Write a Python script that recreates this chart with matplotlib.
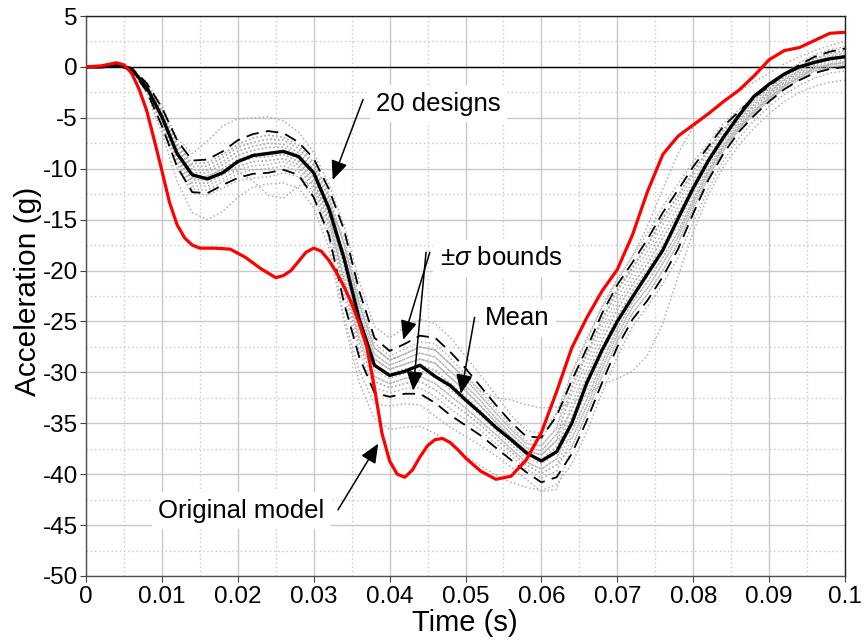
import matplotlib
matplotlib.use("Agg")
import matplotlib.pyplot as plt
from matplotlib.ticker import MultipleLocator, FixedLocator

plt.rcParams['font.family'] = ['Liberation Sans', 'DejaVu Sans']
plt.rcParams['axes.unicode_minus'] = False
plt.rcParams['mathtext.fontset'] = 'custom'
plt.rcParams['mathtext.rm'] = 'Liberation Sans'
plt.rcParams['mathtext.it'] = 'Liberation Sans:italic'
plt.rcParams['lines.solid_joinstyle'] = 'round'
plt.rcParams['lines.dash_joinstyle'] = 'round'

# ---- data -------------------------------------------------------------
# common time base for the 20 designs and their statistics (s)
time = [i * 0.002 for i in range(51)]

mean_acc = [0, 0, 0.2, -0.2, -2.0, -4.9, -8.5, -10.6, -11.0, -10.4, -9.3, -8.7, -8.5,
            -8.3, -8.8, -10.4, -13.9, -18.8, -24.8, -29.3, -30.3, -29.9, -29.3, -30.4,
            -31.3, -32.7, -34.0, -35.4, -36.6, -37.9, -38.7, -37.8, -35.0, -31.0, -27.8,
            -25.0, -22.6, -20.3, -18.0, -14.9, -11.9, -9.2, -6.9, -4.8, -2.9, -1.7, -0.7,
            0.0, 0.45, 0.8, 1.0]

upper_sigma = [0, 0, 0.2, -0.1, -1.6, -4.0, -7.2, -9.2, -9.1, -8.3, -7.2, -6.6, -6.3,
               -6.5, -7.4, -9.0, -12.0, -16.0, -22.0, -26.6, -27.9, -27.2, -26.4, -26.6,
               -28.0, -29.6, -31.4, -33.2, -34.9, -36.3, -36.4, -34.3, -30.8, -27.6, -24.2,
               -21.4, -19.2, -16.9, -14.3, -12.1, -9.8, -7.8, -5.8, -4.4, -3.0, -1.9, -0.7,
               0.2, 1.0, 1.5, 1.8]

lower_sigma = [0, 0, 0.1, -0.3, -2.4, -5.8, -9.8, -12.3, -12.4, -11.6, -10.9, -10.5, -10.4,
               -10.1, -10.6, -12.8, -16.5, -23.2, -28.5, -32.0, -32.4, -32.1, -32.1, -33.0,
               -34.2, -35.2, -36.2, -37.4, -38.6, -39.8, -40.8, -40.3, -38.0, -34.7, -31.0,
               -27.5, -24.8, -22.9, -20.6, -17.9, -14.4, -11.1, -8.5, -6.4, -4.8, -3.4, -2.2,
               -1.3, -0.6, -0.2, 0.0]

design_01 = [0, 0, 0.2, -0.2, -1.7, -4.2, -7.5, -9.5, -9.4, -8.6, -7.6, -7.0, -6.7, -6.9, -7.7, -9.4, -12.5, -17.4, -23.3, -27.6, -28.8, -28.2, -27.5, -27.8, -29.2, -30.7, -32.3, -34.0, -35.6, -37.0, -37.2, -35.5, -31.5, -28.3, -24.9, -22.0, -19.8, -17.5, -14.9, -12.7, -10.3, -8.1, -6.1, -4.6, -3.2, -2.1, -0.9, 0.1, 0.8, 1.3, 1.6]
design_02 = [0, 0, 0.2, -0.2, -2.3, -5.6, -9.5, -12.0, -12.1, -11.3, -10.5, -10.1, -10.0, -9.7, -10.3, -12.4, -16.1, -21.7, -27.2, -30.9, -31.5, -31.1, -30.9, -31.7, -32.9, -34.0, -35.2, -36.5, -37.8, -39.1, -39.9, -39.1, -37.3, -34.0, -30.3, -26.9, -24.2, -22.3, -20.0, -17.3, -13.9, -10.8, -8.2, -6.2, -4.6, -3.3, -2.1, -1.2, -0.4, 0.0, 0.2]
design_03 = [0, 0, 0.2, -0.2, -2.0, -4.9, -8.5, -10.8, -10.8, -10.0, -9.1, -8.6, -8.4, -8.3, -9.0, -10.9, -14.3, -19.6, -25.3, -29.3, -30.2, -29.7, -29.3, -29.8, -31.1, -32.4, -33.8, -35.3, -36.8, -38.1, -38.6, -37.3, -34.4, -31.2, -27.6, -24.5, -22.0, -19.9, -17.5, -15.0, -12.1, -9.5, -7.2, -5.4, -3.9, -2.7, -1.5, -0.6, 0.2, 0.7, 0.9]
design_04 = [0, 0, 0.2, -0.2, -1.8, -4.5, -8.0, -10.1, -10.1, -9.3, -8.3, -7.8, -7.5, -7.6, -8.4, -10.1, -13.4, -21.0, -26.6, -30.4, -31.1, -30.6, -30.4, -31.1, -32.3, -33.5, -34.8, -36.1, -37.5, -38.8, -39.5, -38.5, -35.1, -31.9, -28.3, -25.1, -22.5, -20.5, -18.1, -15.6, -12.5, -9.8, -7.4, -5.6, -4.1, -2.8, -1.6, -0.7, 0.0, 0.5, 0.7]
design_05 = [0, 0, 0.2, -0.2, -2.2, -5.3, -9.0, -11.4, -11.4, -10.6, -9.8, -9.3, -9.2, -9.0, -9.6, -11.7, -15.2, -18.2, -24.0, -28.2, -29.3, -28.7, -28.1, -28.5, -29.9, -31.3, -32.8, -34.5, -36.0, -37.4, -37.7, -36.1, -33.7, -30.4, -26.9, -23.8, -21.4, -19.3, -16.8, -14.4, -11.6, -9.1, -6.9, -5.2, -3.7, -2.5, -1.3, -0.4, 0.4, 0.8, 1.1]
design_06 = [0, 0, 0.2, -0.2, -1.5, -3.8, -7.0, -8.5, -7.3, -5.8, -5.1, -5.0, -4.9, -5.3, -6.4, -8.4, -11.5, -15.5, -21.0, -25.5, -26.6, -25.6, -24.8, -25.2, -26.6, -28.4, -30.3, -32.2, -34.2, -35.7, -36.0, -34.0, -31.0, -28.0, -24.7, -21.8, -19.6, -17.4, -14.8, -12.6, -10.3, -8.1, -6.1, -4.6, -3.2, -2.1, -1.0, 0.0, 0.8, 1.4, 1.9]
design_07 = [0, 0, 0.2, -0.2, -2.2, -5.3, -9.0, -11.0, -10.7, -10.1, -10.3, -11.2, -12.6, -12.9, -11.7, -11.3, -14.6, -18.9, -24.6, -28.7, -29.7, -29.2, -28.7, -29.1, -30.5, -31.8, -33.3, -34.9, -36.4, -37.7, -38.1, -36.7, -33.7, -30.4, -26.9, -23.8, -21.4, -19.3, -16.8, -14.4, -11.6, -9.1, -6.9, -5.2, -3.7, -2.5, -1.3, -0.4, 0.4, 0.8, 1.1]
design_08 = [0, 0, 0.2, -0.2, -2.6, -6.5, -11.2, -14.3, -15.0, -14.2, -12.8, -11.8, -11.5, -11.4, -11.9, -13.8, -17.8, -25.0, -31.0, -34.5, -35.6, -35.4, -35.3, -36.0, -37.0, -38.2, -39.2, -40.1, -40.8, -41.3, -41.6, -41.0, -39.0, -35.8, -32.0, -28.5, -25.5, -23.5, -21.3, -18.7, -15.3, -12.0, -9.2, -7.0, -5.3, -3.9, -2.7, -1.8, -1.1, -0.6, -0.4]
design_09 = [0, 0, 0.2, -0.2, -1.8, -4.3, -7.7, -9.8, -9.7, -8.9, -7.9, -7.4, -7.1, -7.2, -8.0, -9.7, -12.9, -17.4, -23.3, -27.6, -28.8, -28.2, -27.5, -27.8, -29.2, -30.5, -31.8, -32.5, -32.7, -33.2, -33.5, -33.4, -33.0, -32.2, -31.2, -30.6, -29.9, -28.3, -25.2, -20.6, -16.2, -12.6, -9.8, -7.7, -6.0, -4.6, -3.4, -2.5, -1.9, -1.5, -1.3]
design_10 = [0, 0, 0.2, -0.2, -1.9, -4.7, -8.2, -10.4, -10.4, -9.6, -8.7, -8.2, -7.9, -7.9, -8.7, -10.5, -13.8, -16.7, -22.7, -27.1, -28.4, -27.7, -27.0, -27.2, -28.6, -30.2, -31.9, -33.6, -35.3, -36.7, -36.6, -34.0, -30.0, -26.6, -23.6, -21.0, -18.6, -15.6, -12.0, -8.5, -5.9, -4.6, -3.4, -2.4, -1.5, -0.6, 0.3, 1.0, 1.6, 2.1, 2.5]
design_11 = [0, 0, 0.2, -0.2, -2.2, -5.4, -9.2, -11.7, -11.7, -11.0, -10.1, -9.7, -9.6, -9.3, -9.9, -12.0, -15.6, -20.3, -25.9, -29.8, -30.6, -30.1, -29.8, -30.4, -31.7, -32.9, -34.3, -35.7, -37.1, -38.4, -39.0, -37.9, -33.0, -29.7, -26.2, -23.2, -20.9, -18.7, -16.2, -13.8, -11.2, -8.8, -6.6, -5.0, -3.5, -2.4, -1.2, -0.3, 0.5, 1.0, 1.3]
design_12 = [0, 0, 0.2, -0.2, -1.8, -4.3, -7.7, -9.8, -9.7, -8.9, -7.9, -7.4, -7.1, -7.2, -8.0, -9.7, -12.9, -18.9, -24.6, -28.7, -29.7, -29.2, -28.7, -29.1, -30.5, -31.8, -33.3, -34.9, -36.4, -37.7, -38.1, -36.7, -35.8, -32.6, -29.0, -25.7, -23.1, -21.1, -18.7, -16.2, -13.0, -10.1, -7.7, -5.8, -4.3, -3.0, -1.8, -0.9, -0.1, 0.3, 0.5]
design_13 = [0, 0, 0.2, -0.2, -2.1, -5.1, -8.7, -11.1, -11.1, -10.3, -9.4, -8.9, -8.8, -8.6, -9.3, -11.3, -14.7, -22.5, -27.9, -31.5, -32.0, -31.6, -31.5, -32.4, -33.6, -34.6, -35.7, -37.0, -38.2, -39.5, -40.4, -39.7, -36.5, -33.3, -29.6, -26.3, -23.6, -21.7, -19.3, -16.7, -13.4, -10.4, -7.9, -6.0, -4.4, -3.1, -1.9, -1.0, -0.2, 0.2, 0.4]
design_14 = [0, 0, 0.2, -0.2, -2.2, -5.3, -9.0, -11.4, -11.4, -10.6, -9.8, -9.3, -9.2, -9.0, -9.6, -11.7, -15.2, -18.9, -24.6, -28.7, -29.7, -29.2, -28.7, -29.1, -30.5, -31.8, -33.3, -34.9, -36.4, -37.7, -38.1, -36.7, -31.5, -28.3, -24.9, -22.0, -19.8, -17.5, -14.9, -12.7, -10.3, -8.1, -6.1, -4.6, -3.2, -2.1, -0.9, 0.1, 0.8, 1.3, 1.6]
design_15 = [0, 0, 0.2, -0.2, -1.9, -4.7, -8.2, -10.4, -10.4, -9.6, -8.7, -8.2, -7.9, -7.9, -8.7, -10.5, -13.8, -18.2, -24.0, -28.2, -29.3, -28.7, -28.1, -28.5, -29.9, -31.3, -32.8, -34.5, -36.0, -37.4, -37.7, -36.1, -32.2, -29.0, -25.5, -22.6, -20.3, -18.1, -15.5, -13.2, -10.7, -8.4, -6.3, -4.8, -3.3, -2.2, -1.0, -0.1, 0.6, 1.1, 1.4]
design_16 = [0, 0, 0.2, -0.2, -2.1, -5.1, -8.7, -11.1, -11.1, -10.3, -9.4, -8.9, -8.8, -8.6, -9.3, -11.3, -14.7, -21.0, -26.6, -30.4, -31.1, -30.6, -30.4, -31.1, -32.3, -33.5, -34.8, -36.1, -37.5, -38.8, -39.5, -38.5, -34.4, -31.2, -27.6, -24.5, -22.0, -19.9, -17.5, -15.0, -12.1, -9.5, -7.2, -5.4, -3.9, -2.7, -1.5, -0.6, 0.2, 0.7, 0.9]
design_17 = [0, 0, 0.2, -0.2, -1.7, -4.2, -7.5, -9.5, -9.4, -8.6, -7.6, -7.0, -6.7, -6.9, -7.7, -9.4, -12.5, -19.6, -25.3, -29.3, -30.2, -29.7, -29.3, -29.8, -31.1, -32.4, -33.8, -35.3, -36.8, -38.1, -38.6, -37.3, -36.5, -33.3, -29.6, -26.3, -23.6, -21.7, -19.3, -16.7, -13.4, -10.4, -7.9, -6.0, -4.4, -3.1, -1.9, -1.0, -0.2, 0.2, 0.4]
design_18 = [0, 0, 0.2, -0.2, -2.4, -5.8, -9.9, -12.4, -12.6, -11.9, -11.2, -10.9, -10.8, -10.4, -10.8, -12.9, -16.8, -24.6, -29.8, -33.1, -33.3, -33.1, -33.2, -34.3, -35.4, -36.3, -37.2, -38.2, -39.3, -40.5, -41.7, -41.5, -37.3, -34.0, -30.3, -26.9, -24.2, -22.3, -20.0, -17.3, -13.9, -10.8, -8.2, -6.2, -4.6, -3.3, -2.1, -1.2, -0.4, 0.0, 0.2]
design_19 = [0, 0, 0.2, -0.2, -1.8, -4.5, -8.0, -10.1, -10.1, -9.3, -8.3, -7.8, -7.5, -7.6, -8.4, -10.1, -13.4, -17.4, -23.3, -27.6, -28.8, -28.2, -27.5, -27.8, -29.2, -30.7, -32.3, -34.0, -35.6, -37.0, -37.2, -35.5, -30.1, -26.9, -23.5, -20.8, -18.6, -16.3, -13.7, -11.5, -9.3, -7.5, -5.5, -4.2, -2.8, -1.8, -0.6, 0.4, 1.2, 1.7, 2.0]
design_20 = [0, 0, 0.2, -0.2, -2.0, -4.9, -8.5, -10.8, -10.8, -10.0, -9.1, -8.6, -8.4, -8.3, -9.0, -10.9, -14.3, -21.7, -27.2, -30.9, -31.5, -31.1, -30.9, -31.7, -32.9, -34.0, -35.2, -36.5, -37.8, -39.1, -39.9, -39.1, -35.8, -32.6, -29.0, -25.7, -23.1, -21.1, -18.7, -16.2, -13.0, -10.1, -7.7, -5.8, -4.3, -3.0, -1.8, -0.9, -0.1, 0.3, 0.5]

designs = [design_01, design_02, design_03, design_04, design_05,
           design_06, design_07, design_08, design_09, design_10,
           design_11, design_12, design_13, design_14, design_15,
           design_16, design_17, design_18, design_19, design_20]

# original (baseline) model
orig_time = [0, 0.002, 0.004, 0.005, 0.006, 0.007, 0.008, 0.009, 0.010, 0.011, 0.012,
             0.013, 0.014, 0.015, 0.017, 0.019, 0.021, 0.023, 0.025, 0.026, 0.027, 0.028,
             0.029, 0.030, 0.031, 0.032, 0.033, 0.034, 0.035, 0.036, 0.037, 0.038, 0.039,
             0.040, 0.041, 0.042, 0.043, 0.044, 0.045, 0.046, 0.047, 0.048, 0.049, 0.050,
             0.052, 0.054, 0.056, 0.058, 0.060, 0.062, 0.064, 0.066, 0.068, 0.070, 0.072,
             0.074, 0.076, 0.078, 0.080, 0.082, 0.084, 0.086, 0.088, 0.090, 0.092, 0.094,
             0.096, 0.098, 0.100]
orig_acc = [0, 0.1, 0.4, 0.2, -0.6, -2.2, -4.3, -7.2, -10.2, -13.3, -15.5,
            -16.8, -17.5, -17.8, -17.8, -17.9, -18.7, -19.8, -20.7, -20.5, -20.0, -19.1,
            -18.2, -17.8, -18.1, -19.0, -20.2, -21.6, -23.2, -25.2, -27.5, -31.5, -36.0,
            -38.7, -40.0, -40.3, -39.6, -38.3, -37.2, -36.6, -36.5, -36.9, -37.6, -38.4,
            -39.7, -40.5, -40.2, -38.6, -35.9, -31.9, -27.6, -24.6, -22.0, -19.9, -16.5,
            -12.2, -8.6, -6.8, -5.7, -4.6, -3.4, -2.3, -0.9, 0.7, 1.6, 1.9,
            2.6, 3.3, 3.4]

x_ticks = [0, 0.01, 0.02, 0.03, 0.04, 0.05, 0.06, 0.07, 0.08, 0.09, 0.1]
x_tick_labels = ['0', '0.01', '0.02', '0.03', '0.04', '0.05', '0.06', '0.07', '0.08', '0.09', '0.1']
y_ticks = [5, 0, -5, -10, -15, -20, -25, -30, -35, -40, -45, -50]

# ---- figure -----------------------------------------------------------
W, H = 864, 641
fig = plt.figure(figsize=(W / 100, H / 100), dpi=100)
ax = fig.add_axes([86 / W, 1 - 576 / H, (845 - 86) / W, (576 - 16) / H])

ax.set_xlim(0, 0.1)
ax.set_ylim(-50, 5)
ax.xaxis.set_major_locator(FixedLocator(x_ticks))
ax.set_xticklabels(x_tick_labels)
ax.yaxis.set_major_locator(FixedLocator(y_ticks))
ax.set_yticklabels([str(v) for v in y_ticks])
ax.xaxis.set_minor_locator(MultipleLocator(0.005))
ax.yaxis.set_minor_locator(MultipleLocator(2.5))

ax.grid(which='major', color='#c8c8c8', lw=1.0, ls='-')
ax.grid(which='minor', color='#c8c8c8', lw=1.0, ls=(0, (1, 2)))
ax.set_axisbelow(True)
ax.tick_params(which='minor', length=0)
ax.tick_params(axis='y', which='major', labelsize=17.5, length=4, pad=2, color='#404040')
ax.tick_params(axis='x', which='major', labelsize=17.5, length=4, pad=3, color='#404040')
for side in ('left', 'bottom'):
    ax.spines[side].set_color('#505050')
for side in ('top', 'right'):
    ax.spines[side].set_color('#202020')
for s in ax.spines.values():
    s.set_linewidth(1.0)

ax.axhline(0, color='black', lw=1.0, zorder=1.5)

for d in designs:
    ax.plot(time, d, color='#b0b0b0', lw=1.1, ls=(0, (1, 1.6)), zorder=2)

ax.plot(time, upper_sigma, color='black', lw=1.3, ls=(0, (7, 4)), zorder=3)
ax.plot(time, lower_sigma, color='black', lw=1.3, ls=(0, (7, 4)), zorder=3)
ax.plot(time, mean_acc, color='black', lw=2.4, zorder=4)
ax.plot(orig_time, orig_acc, color='#ff0000', lw=2.3, zorder=5)

# ---- annotations -------------------------------------------------------
box = dict(boxstyle='square,pad=0.25', fc='white', ec='none')
arrow = dict(arrowstyle='-|>,head_length=0.65,head_width=0.28', color='black',
             lw=1.1, shrinkA=0, shrinkB=0, mutation_scale=18)
fs = 18.5

ax.text(0.0382, -3.6, '20 designs', fontsize=fs, ha='left', va='center', bbox=box, zorder=6)
ax.annotate('', xy=(0.0325, -11.1), xytext=(0.0365, -3.2), arrowprops=arrow, zorder=6)

ax.text(0.0466, -18.8, r'$\pm\sigma$ bounds', fontsize=fs, ha='left', va='center', bbox=box, zorder=6)
ax.annotate('', xy=(0.0418, -26.8), xytext=(0.0453, -18.2), arrowprops=arrow, zorder=6)
ax.annotate('', xy=(0.0431, -31.8), xytext=(0.0448, -18.2), arrowprops=arrow, zorder=6)

ax.text(0.0526, -24.7, 'Mean', fontsize=fs, ha='left', va='center', bbox=box, zorder=6)
ax.annotate('', xy=(0.0494, -32.1), xytext=(0.0512, -24.6), arrowprops=arrow, zorder=6)

ax.text(0.0095, -43.6, 'Original model', fontsize=fs, ha='left', va='center', bbox=box, zorder=6)
ax.annotate('', xy=(0.0385, -37.0), xytext=(0.0332, -43.5), arrowprops=arrow, zorder=6)

fig.text(465 / W, 1 - 623 / H, 'Time (s)', fontsize=21, ha='center', va='center')
fig.text(28 / W, 1 - 291 / H, 'Acceleration (g)', fontsize=21.5, ha='center', va='center',
         rotation=90)

fig.savefig('out.png', dpi=100)
